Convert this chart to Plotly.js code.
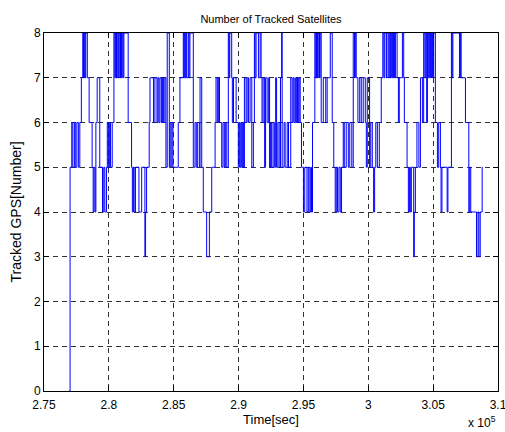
<!DOCTYPE html>
<html>
<head>
<meta charset="utf-8">
<script src="https://cdn.plot.ly/plotly-3.0.1.min.js"></script>
<style>
html, body { margin: 0; padding: 0; background: #ffffff; }
#chart { width: 505px; height: 432px; }
</style>
</head>
<body>
<div id="chart"></div>
<script>
const chartTitle = 'Number of Tracked Satellites';
const xAxisTitle = 'Time[sec]';
const yAxisTitle = 'Tracked GPS[Number]';
const xExponentLabel = 'x 10<sup>5</sup>';
const xTickVals = [275000, 280000, 285000, 290000, 295000, 300000, 305000, 310000];
const xTickText = ['2.75', '2.8', '2.85', '2.9', '2.95', '3', '3.05', '3.1'];
const yTickVals = [0, 1, 2, 3, 4, 5, 6, 7, 8];

// Time of each change in the number of tracked satellites (seconds)
const timeSec = [
  276950, 277010, 277140, 277220, 277340, 277410, 277530, 277650, 277760, 277880,
  277990, 278050, 278110, 278170, 278220, 278340, 278480, 278710, 278790, 278860,
  278940, 279000, 279100, 279300,
  279510, 279610, 279690, 279820, 279880, 279960, 280040, 280130, 280260, 280390,
  280460, 280520, 280590, 280640, 280720, 280770, 280850, 280900, 280980, 281030,
  281100, 281160, 281490, 281750, 281810, 281890, 281950, 282050, 282320, 282530,
  282780, 282830, 282910, 283110, 283170,
  283440, 283550, 283710, 283780, 283860, 283940, 284050, 284130, 284220, 284320,
  284400, 284500, 284660, 284710, 284790, 284870, 284940, 285350, 285480, 285740,
  285790, 285850, 285890, 285950, 286000, 286120, 286180, 286250, 286510,
  286640, 286740, 286820, 286970, 287030, 287160, 287280, 287540, 287750, 287930,
  288190, 288260, 288360, 288440, 288530, 288700, 288800, 288900, 288980, 289090,
  289210, 289270, 289320, 289470, 289520, 289610, 289810, 289980, 290060, 290120,
  290190, 290250, 290320, 290370, 290450, 290580, 290660, 290770, 290890, 291020,
  291140, 291220, 291270, 291350, 291530, 291660, 291740, 291810, 291890, 292010,
  292080, 292200, 292320, 292390, 292470, 292550, 292660, 292760, 292860, 292930,
  293030, 293130, 293230, 293320, 293360,
  293510, 293590, 293750, 293850, 294020, 294130, 294210, 294290, 294400, 294480,
  294540, 294600, 294670, 294750, 294850, 295000, 295100, 295270, 295370, 295440,
  295560, 295620, 295700, 295880, 295950, 296010, 296090, 296140, 296240, 296290,
  296370, 296530, 296720, 296830, 297070, 297220, 297340, 297450, 297530, 297630,
  297740, 297840, 297940, 298070, 298150, 298300, 298460, 298570, 298730, 298840,
  298940, 299000, 299070, 299200, 299340, 299460, 299610, 299770, 299850,
  299920, 300100, 300190, 300310, 300410, 300490, 300580, 300700, 300850, 301000,
  301120, 301200, 301270, 301390, 301430, 301540, 301620, 301700, 301750, 301810,
  301880, 301930, 301970, 302030, 302090, 302220, 302320, 302390, 302630, 302730,
  302780, 302990, 303090, 303170, 303240, 303320, 303500, 303550, 303630, 303750,
  303900,
  304020, 304170, 304270, 304360, 304430, 304500, 304560, 304630, 304710, 304790,
  304840, 304890, 304940, 305000, 305040, 305170, 305330, 305430, 305560, 305610,
  305680, 306080, 306140, 306410, 306460, 306520, 307030, 307100, 307160, 307490,
  307750, 307820, 307900, 308340, 308460, 308530, 308630, 308780, 308830
];

// Number of tracked GPS satellites from that time on
const trackedSats = [
  0, 5, 6, 5, 6, 5, 6, 5, 6, 7,
  8, 7, 8, 7, 8, 7, 6, 5, 4, 5,
  4, 6, 7, 5,
  4, 5, 4, 5, 6, 5, 6, 5, 6, 8,
  7, 8, 7, 8, 7, 8, 7, 8, 7, 8,
  7, 8, 6, 5, 4, 5, 4, 5, 4, 5,
  3, 4, 5, 6, 7,
  6, 7, 6, 7, 6, 7, 6, 7, 6, 7,
  5, 8, 5, 6, 5, 6, 5, 6, 7, 8,
  7, 8, 7, 8, 7, 8, 7, 8, 5,
  6, 5, 6, 5, 7, 5, 4, 3, 4, 5,
  6, 7, 6, 7, 6, 5, 6, 5, 6, 5,
  8, 7, 8, 7, 6, 7, 6, 5, 6, 5,
  6, 5, 6, 5, 7, 6, 7, 6, 7, 5,
  6, 8, 7, 8, 7, 8, 7, 6, 7, 5,
  7, 6, 7, 5, 6, 5, 6, 5, 7, 5,
  6, 5, 7, 8, 5,
  6, 5, 6, 5, 7, 6, 7, 6, 7, 6,
  7, 6, 7, 6, 5, 4, 5, 4, 5, 4,
  5, 4, 6, 8, 7, 8, 7, 8, 7, 8,
  6, 7, 6, 7, 8, 6, 5, 4, 5, 4,
  5, 4, 5, 6, 5, 6, 5, 6, 5, 8,
  7, 8, 7, 6, 7, 6, 7, 6, 5,
  7, 5, 6, 5, 4, 5, 6, 5, 6, 7,
  8, 7, 8, 7, 8, 7, 8, 7, 8, 7,
  8, 7, 8, 7, 8, 7, 6, 7, 8, 7,
  6, 5, 4, 5, 4, 5, 3, 4, 5, 6,
  5,
  7, 6, 8, 7, 8, 6, 8, 7, 8, 7,
  8, 7, 8, 7, 8, 6, 5, 6, 5, 4,
  5, 4, 5, 8, 7, 8, 7, 8, 7, 6,
  4, 5, 4, 3, 4, 3, 4, 5, 5
];

const fontFamily = 'Liberation Sans, Arial, Helvetica, sans-serif';

const trace = {
  x: timeSec,
  y: trackedSats,
  type: 'scatter',
  mode: 'lines',
  line: { shape: 'hv', color: '#0000ff', width: 1 },
  hoverinfo: 'x+y'
};

const axisCommon = {
  showline: true,
  linecolor: '#000000',
  linewidth: 1,
  mirror: 'ticks',
  ticks: 'inside',
  ticklen: 5,
  tickwidth: 1,
  tickcolor: '#000000',
  showgrid: true,
  gridcolor: '#333333',
  gridwidth: 1,
  griddash: '5px,4px',
  zeroline: false,
  ticklabeloverflow: 'allow',
  tickfont: { family: fontFamily, size: 12, color: '#000000' }
};

const layout = {
  width: 505,
  height: 432,
  margin: { l: 44, r: 7, t: 33, b: 41 },
  paper_bgcolor: '#ffffff',
  plot_bgcolor: '#ffffff',
  showlegend: false,
  font: { family: fontFamily, size: 12, color: '#000000' },
  title: {
    text: chartTitle,
    font: { family: fontFamily, size: 11, color: '#000000' },
    xref: 'paper', x: 0.5, xanchor: 'center',
    yref: 'container', y: 1 - 19 / 432, yanchor: 'middle'
  },
  xaxis: Object.assign({}, axisCommon, {
    range: [275000, 310000],
    tickmode: 'array',
    tickvals: xTickVals,
    ticktext: xTickText,
    ticklabelstandoff: 3,
    title: { text: xAxisTitle, font: { family: fontFamily, size: 13, color: '#000000' }, standoff: 0 }
  }),
  yaxis: Object.assign({}, axisCommon, {
    range: [0, 8],
    tickmode: 'array',
    tickvals: yTickVals,
    title: { text: yAxisTitle, font: { family: fontFamily, size: 14, color: '#000000' }, standoff: 9 }
  }),
  annotations: [{
    text: xExponentLabel,
    xref: 'paper', yref: 'paper',
    x: (466 - 44) / 454, y: (391 - 432) / 358,
    xanchor: 'left', yanchor: 'bottom',
    showarrow: false,
    font: { family: fontFamily, size: 12, color: '#000000' }
  }]
};

Plotly.newPlot('chart', [trace], layout, { staticPlot: true, displayModeBar: false });
</script>
</body>
</html>
